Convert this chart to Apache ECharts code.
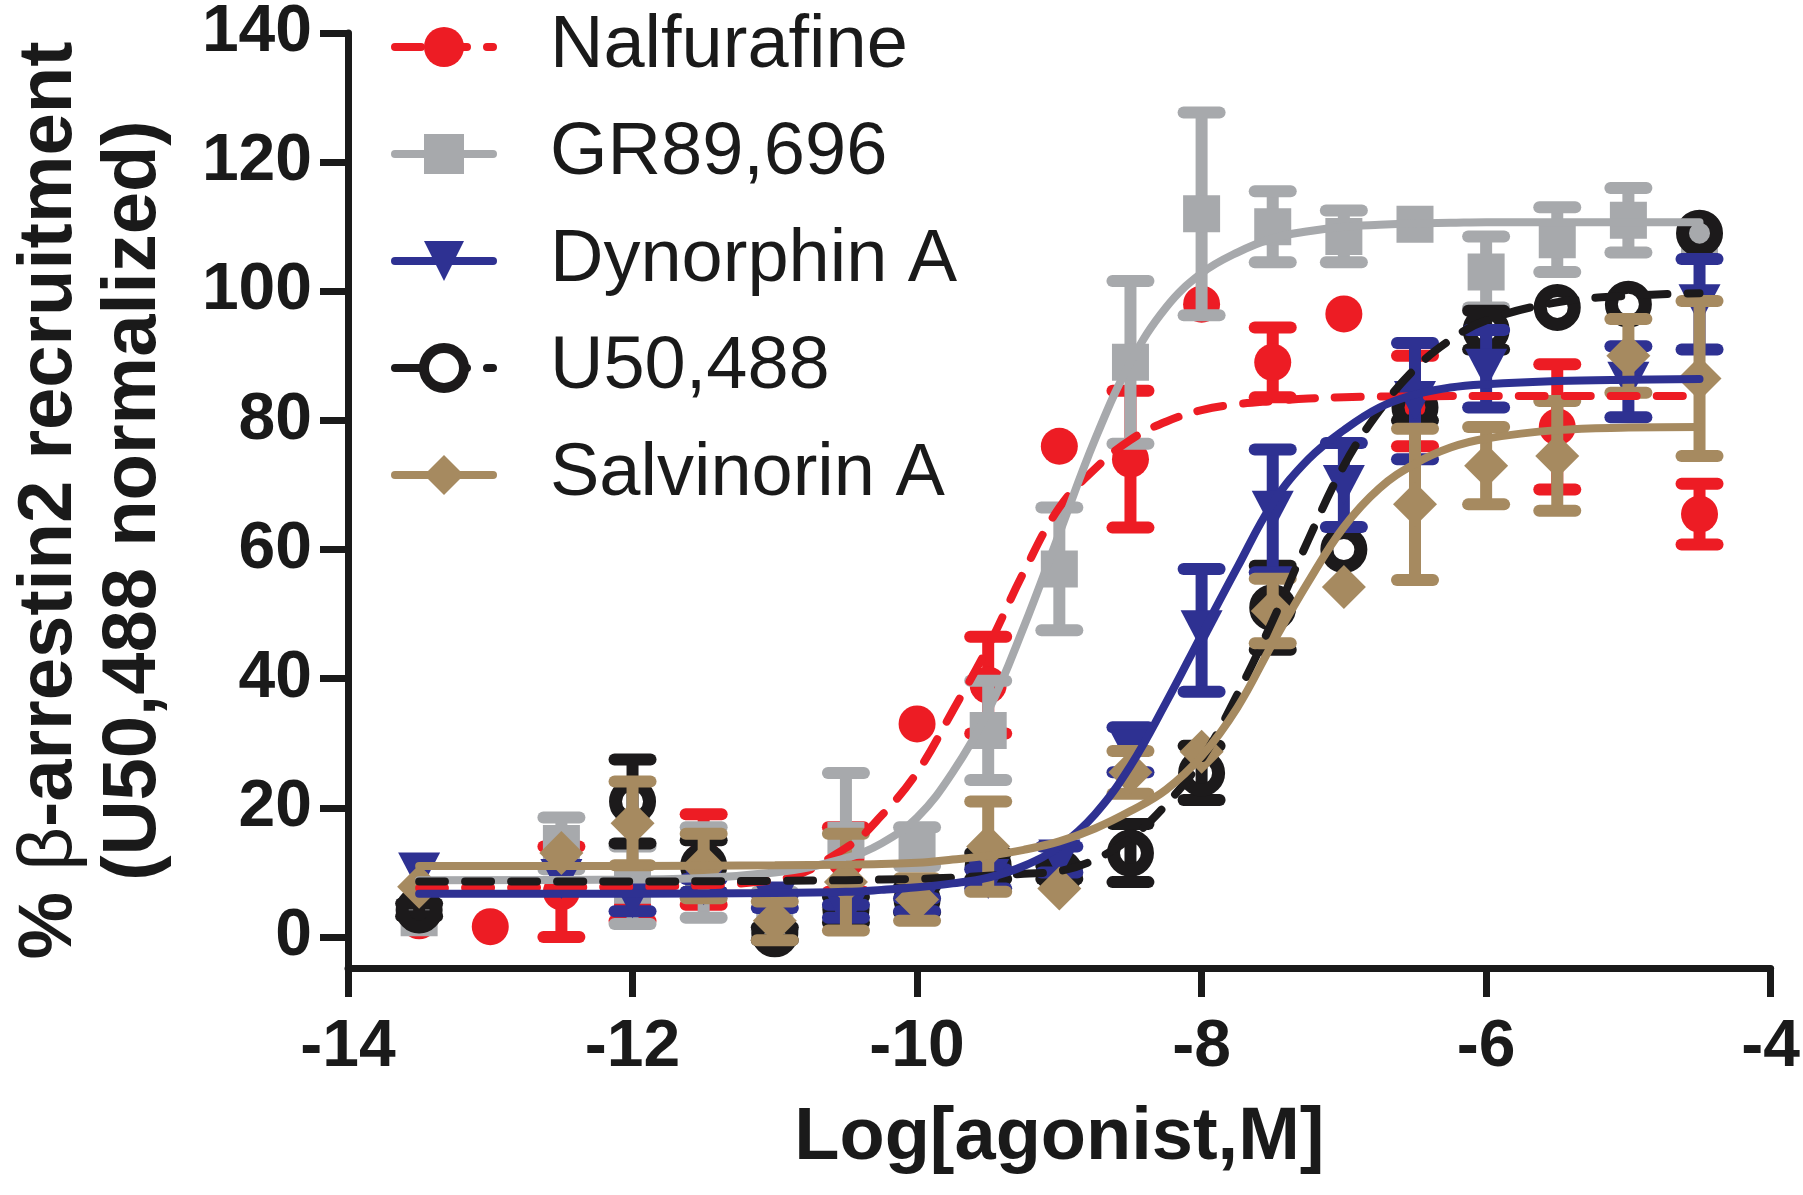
<!DOCTYPE html>
<html>
<head>
<meta charset="utf-8">
<script src="https://cdn.jsdelivr.net/npm/echarts@6/dist/echarts.min.js"></script>
<style>
  html, body { margin: 0; padding: 0; background: #ffffff; }
  #chart { width: 1803px; height: 1195px; }
</style>
</head>
<body>
<div id="chart"></div>
<script>
// ---- data ----
// log[agonist, M] of the measured points, per compound
var doseNal = [-13.5, -13, -12.5, -12, -11.5, -11, -10.5, -10, -9.5, -9, -8.5, -8, -7.5, -7, -6.5, -5.5, -4.5];
var doseGr  = [-13.5, -12.5, -12, -11.5, -11, -10.5, -10, -9.5, -9, -8.5, -8, -7.5, -7, -6.5, -6, -5.5, -5, -4.5];
var doseDyn = [-13.5, -12.5, -12, -11.5, -11, -10.5, -10, -9.5, -9, -8.5, -8, -7.5, -7, -6.5, -6, -5, -4.5];
var doseU50 = [-13.5, -12, -11.5, -11, -10.5, -10, -9.5, -9, -8.5, -8, -7.5, -7, -6.5, -6, -5.5, -5, -4.5];
var doseSal = [-13.5, -12.5, -12, -11.5, -11, -10.5, -10, -9.5, -9, -8.5, -8, -7.5, -7, -6.5, -6, -5.5, -5, -4.5];

// mean and SEM, % beta-arrestin2 recruitment
var nalMean = [2.5, 1.6, 7, 5, 12, 2, 12, 33, 39, 76, 74, 98, 89, 96.5, 83, 79, 65.5];
var nalSem  = [0, 0, 7, 2.5, 7, 0, 5, 0, 7.5, 0, 10.6, 0, 5.4, 0, 7, 9.7, 4.7];

var grMean = [3, 14.5, 8, 10, 4, 15, 14, 32, 57, 89, 112, 110, 108.5, 110.4, 103, 108, 111, 108.5];
var grSem  = [0, 4, 6, 7, 3, 10.4, 3, 7.7, 9.5, 12.6, 15.7, 5.5, 4, 0, 5.5, 5, 5, 0];

var dynMean = [10, 9, 6, 8, 5.5, 4, 5, 9, 12, 29, 47.5, 66, 70, 83, 88, 86, 98];
var dynSem  = [0, 0, 2, 1, 1, 1, 1, 1.5, 2, 3.5, 9.5, 9.5, 6.5, 9, 6, 5.5, 7];

var u50Mean = [4.2, 21, 11, 0.5, 4.2, 5.8, 11, 10, 13, 25.4, 51, 60, 82, 94, 97.5, 98, 109];
var u50Sem  = [1, 6.5, 4, 1, 2, 2, 2, 1, 4.5, 4.2, 6.5, 0, 2, 3, 0, 0, 0];

var salMean = [7.8, 13, 17.6, 11, 2.5, 8.5, 5.8, 14, 7.5, 25.5, 28.7, 50.5, 54.2, 67, 73, 74.5, 90, 86.5];
var salSem  = [0, 0, 6.5, 5, 3, 7.5, 3.3, 7, 0, 3.3, 0, 5, 0, 11.7, 6, 8.5, 5.7, 12];

// fitted curves, read at these log doses
var fitDose = [-13.5, -12, -11, -10.5, -10.25, -10, -9.75, -9.5, -9.25, -9, -8.75, -8.5, -8.25, -8, -7.75, -7.5, -7.25, -7, -6.75, -6.5, -6.25, -6, -5.5, -5, -4.5];
var nalFit = [7.6, 7.8, 8.8, 13.8, 18.8, 25.5, 35, 45, 56.5, 66.5, 72.5, 77, 79.8, 81.6, 82.5, 83, 83.4, 83.6, 83.7, 83.7, 83.8, 83.8, 83.8, 83.8, 83.8];
var grFit  = [8.8, 8.9, 10, 12.2, 14.5, 18.5, 25.5, 35, 48, 62.5, 77, 89, 97.5, 102.8, 106, 108.2, 109.3, 110, 110.3, 110.5, 110.6, 110.7, 110.7, 110.7, 110.7];
var dynFit = [6.7, 6.7, 6.8, 7, 7.3, 7.7, 8.3, 9.2, 11, 14, 19, 26.5, 36.3, 46.8, 57.2, 67.2, 74, 78.5, 82, 84, 85.1, 85.6, 86.1, 86.3, 86.4];
var u50Fit = [8.6, 8.6, 8.7, 8.8, 8.9, 9, 9.2, 9.5, 9.8, 10.2, 12, 15.3, 20.5, 27.5, 37.5, 49, 61.5, 73, 81.5, 88, 92.5, 95.5, 98.3, 99.3, 99.7];
var salFit = [11, 11, 11.1, 11.2, 11.3, 11.5, 12, 12.6, 13.5, 14.8, 16.8, 19.5, 22.8, 28, 35.5, 45.5, 55, 63.5, 69.5, 73.3, 75.8, 77.2, 78.5, 78.9, 79];

var xTicks = [-14, -12, -10, -8, -6, -4];
var yTicks = [0, 20, 40, 60, 80, 100, 120, 140];

var names = ['Nalfurafine', 'GR89,696', 'Dynorphin A', 'U50,488', 'Salvinorin A'];

var RED = '#ed1c24', GRAY = '#a7a9ac', BLUE = '#2e3192', BLACK = '#1c1a1b', TAN = '#a68a60';
var FONT = "'Liberation Sans', Arial, Helvetica, sans-serif";

// ---- series builders ----
function curve(name, color, dashed, symbol, rotate, vals, z) {
    return {
        name: name,
        type: 'line',
        z: z,
        smooth: 0.4,
        showSymbol: false,
        symbol: symbol,
        symbolRotate: rotate,
        silent: true,
        itemStyle: { color: color },
        lineStyle: {
            color: color,
            width: 8,
            type: dashed ? [26, 20] : 'solid',
            cap: 'round'
        },
        data: fitDose.map(function (x, i) { return [x, vals[i]]; })
    };
}

function markers(name, color, symbol, size, rotate, xs, means, z, hollow) {
    return {
        name: name,
        type: 'scatter',
        z: z,
        silent: true,
        symbol: symbol,
        symbolSize: size,
        symbolRotate: rotate,
        itemStyle: hollow
            ? { color: 'rgba(0,0,0,0)', borderColor: color, borderWidth: 13, opacity: 1 }
            : { color: color, opacity: 1 },
        data: xs.map(function (x, i) { return [x, means[i]]; })
    };
}

function errorBars(name, color, xs, means, sems, z) {
    return {
        name: name,
        type: 'custom',
        z: z,
        silent: true,
        encode: { x: 0, y: 1 },
        data: xs.map(function (x, i) { return [x, means[i], sems[i]]; }),
        renderItem: function (params, api) {
            var x = api.value(0), m = api.value(1), s = api.value(2);
            if (!s) {
                return { type: 'group', children: [] };
            }
            var top = api.coord([x, m + s]);
            var bot = api.coord([x, m - s]);
            var hw = 18;
            var st = { stroke: color, lineWidth: 12, lineCap: 'round' };
            return {
                type: 'group',
                children: [
                    { type: 'line', shape: { x1: top[0], y1: top[1], x2: bot[0], y2: bot[1] }, style: { stroke: color, lineWidth: 12 } },
                    { type: 'line', shape: { x1: top[0] - hw, y1: top[1], x2: top[0] + hw, y2: top[1] }, style: st },
                    { type: 'line', shape: { x1: bot[0] - hw, y1: bot[1], x2: bot[0] + hw, y2: bot[1] }, style: st }
                ]
            };
        }
    };
}

var series = [
    // curves first so the legend takes its icon from them
    curve(names[0], RED, true, 'circle', 0, nalFit, 61),
    curve(names[1], GRAY, false, 'rect', 0, grFit, 62),
    curve(names[2], BLUE, false, 'triangle', 180, dynFit, 64),
    curve(names[3], BLACK, true, 'circle', 0, u50Fit, 63),
    curve(names[4], TAN, false, 'diamond', 0, salFit, 65),

    errorBars(names[0], RED, doseNal, nalMean, nalSem, 10),
    markers(names[0], RED, 'circle', 37, 0, doseNal, nalMean, 11, false),
    errorBars(names[1], GRAY, doseGr, grMean, grSem, 20),
    markers(names[1], GRAY, 'rect', 37, 0, doseGr, grMean, 21, false),
    errorBars(names[3], BLACK, doseU50, u50Mean, u50Sem, 30),
    markers(names[3], BLACK, 'circle', 34, 0, doseU50, u50Mean, 31, true),
    errorBars(names[2], BLUE, doseDyn, dynMean, dynSem, 40),
    markers(names[2], BLUE, 'triangle', [42, 40], 180, doseDyn, dynMean, 41, false),
    errorBars(names[4], TAN, doseSal, salMean, salSem, 50),
    markers(names[4], TAN, 'diamond', 44, 0, doseSal, salMean, 51, false)
];

var chart = echarts.init(document.getElementById('chart'));

chart.setOption({
    animation: false,
    backgroundColor: '#ffffff',
    grid: { left: 348, right: 29, top: 32, bottom: 227, containLabel: false },
    legend: {
        orient: 'vertical',
        left: 391,
        top: 7,
        padding: 0,
        itemWidth: 98,
        itemHeight: 50,
        itemGap: 27,
        selectedMode: false,
        lineStyle: { width: 8 },
        textStyle: {
            fontFamily: FONT,
            fontSize: 74,
            color: '#1a1a1a',
            lineHeight: 80,
            padding: [0, 0, 0, 52]
        },
        data: [
            { name: names[0], itemStyle: { color: RED, borderWidth: 0 } },
            { name: names[1], itemStyle: { color: GRAY, borderWidth: 0 } },
            { name: names[2], itemStyle: { color: BLUE, borderWidth: 0 } },
            { name: names[3], itemStyle: { color: '#ffffff', borderColor: BLACK, borderWidth: 10 } },
            { name: names[4], itemStyle: { color: TAN, borderWidth: 0 } }
        ]
    },
    xAxis: {
        type: 'value',
        min: -14,
        max: -4,
        interval: 2,
        name: 'Log[agonist,M]',
        nameLocation: 'middle',
        nameGap: 134,
        nameTextStyle: { fontFamily: FONT, fontSize: 74, fontWeight: 'bold', color: '#1a1a1a' },
        axisLine: { onZero: false, lineStyle: { color: '#1a1a1a', width: 7 } },
        axisTick: { show: true, length: 29, lineStyle: { color: '#1a1a1a', width: 7 } },
        axisLabel: {
            margin: 47,
            fontFamily: FONT,
            fontSize: 66,
            fontWeight: 'bold',
            color: '#1a1a1a',
            customValues: xTicks
        },
        splitLine: { show: false }
    },
    yAxis: {
        type: 'value',
        min: -4.8,
        max: 140,
        name: '{a|% }{b|β}{a|-arrestin2 recruitment}\n{a|(U50,488 normalized)}',
        nameLocation: 'middle',
        nameRotate: 90,
        nameGap: 172,
        nameTextStyle: {
            color: '#1a1a1a',
            rich: {
                a: { fontFamily: FONT, fontSize: 76, fontWeight: 'bold', lineHeight: 84, color: '#1a1a1a' },
                b: { fontFamily: FONT, fontSize: 76, fontWeight: 'normal', lineHeight: 84, color: '#1a1a1a' }
            }
        },
        axisLine: { onZero: false, lineStyle: { color: '#1a1a1a', width: 7 } },
        axisTick: { show: true, length: 28, customValues: yTicks, lineStyle: { color: '#1a1a1a', width: 7 } },
        axisLabel: {
            margin: 36,
            fontFamily: FONT,
            fontSize: 66,
            fontWeight: 'bold',
            color: '#1a1a1a',
            customValues: yTicks
        },
        splitLine: { show: false }
    },
    series: series
});
</script>
</body>
</html>
